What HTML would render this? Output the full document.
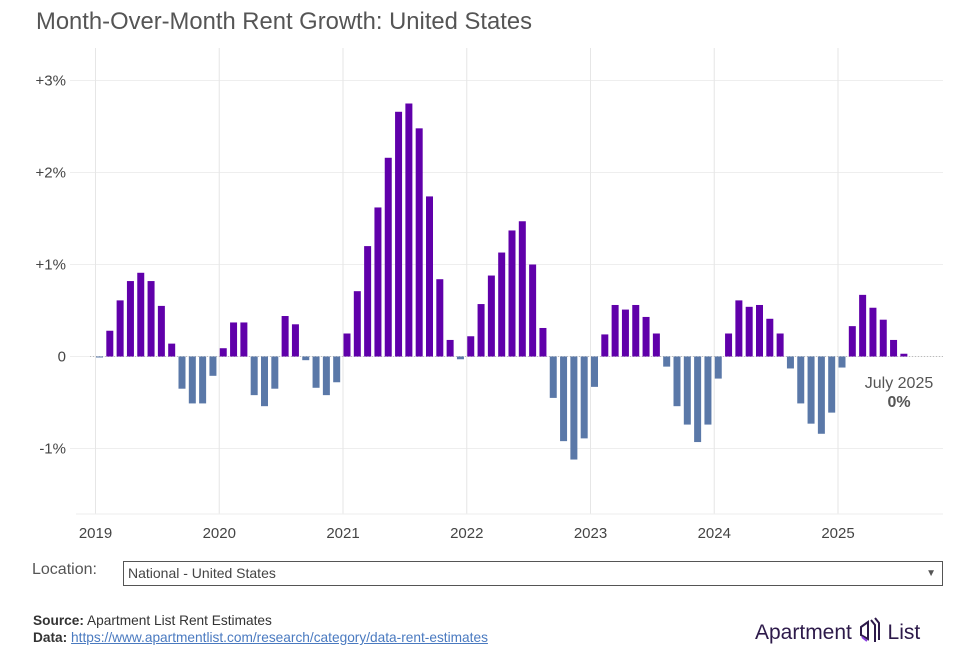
<!DOCTYPE html>
<html><head><meta charset="utf-8"><style>
body{margin:0;background:#fff;font-family:"Liberation Sans",sans-serif;}
#wrap{position:relative;width:967px;height:667px;overflow:hidden;}
.t{position:absolute;white-space:nowrap;}
</style></head><body><div id="wrap">
<div class="t" style="left:36px;top:8px;font-size:23.8px;color:#555;">Month-Over-Month Rent Growth: United States</div>
<svg id="chart" width="967" height="540" style="position:absolute;left:0;top:0;font-family:'Liberation Sans',sans-serif"></svg>
<div class="t" style="left:32px;top:561px;font-size:16px;color:#555;">Location:</div>
<div style="position:absolute;left:123px;top:561px;width:820px;height:25px;border:1px solid #555;box-sizing:border-box;font-size:14px;color:#444;line-height:22px;padding-left:4px;">National - United States<span style="position:absolute;right:6px;top:1px;font-size:10px;color:#555;">▼</span></div>
<div class="t" style="left:33px;top:613px;font-size:13.7px;color:#333;"><b>Source:</b> Apartment List Rent Estimates</div>
<div class="t" style="left:33px;top:630px;font-size:13.7px;color:#333;"><b>Data:</b> <span style="color:#4a7ac0;text-decoration:underline;">https://www.apartmentlist.com/research/category/data-rent-estimates</span></div>
<div class="t" style="left:755px;top:617px;font-size:21px;color:#2d1a4a;">Apartment <svg width="24" height="28" viewBox="0 0 24 28" style="vertical-align:-6px"><path d="M3 10 L10 5 L10 22 L3 18 Z" fill="none" stroke="#2d1a4a" stroke-width="2"/><path d="M4 20 L9 24" stroke="#8a3fe0" stroke-width="2"/><path d="M13 3 L17 8 L17 25 M17 1 L21 6 L21 23" fill="none" stroke="#2d1a4a" stroke-width="2"/></svg> List</div>
</div>
<script>
const years=["2019","2020","2021","2022","2023","2024","2025"];
const yTicks=[3,2,1,0,-1];
const yTickLabels=["+3%","+2%","+1%","0","-1%"];
const values=[
-0.01,0.28,0.61,0.82,0.91,0.82,0.55,0.14,-0.35,-0.51,-0.51,-0.21,
0.09,0.37,0.37,-0.42,-0.54,-0.35,0.44,0.35,-0.04,-0.34,-0.42,-0.28,
0.25,0.71,1.20,1.62,2.16,2.66,2.75,2.48,1.74,0.84,0.18,-0.03,
0.22,0.57,0.88,1.13,1.37,1.47,1.00,0.31,-0.45,-0.92,-1.12,-0.89,
-0.33,0.24,0.56,0.51,0.56,0.43,0.25,-0.11,-0.54,-0.74,-0.93,-0.74,
-0.24,0.25,0.61,0.54,0.56,0.41,0.25,-0.13,-0.51,-0.73,-0.84,-0.61,
-0.12,0.33,0.67,0.53,0.40,0.18,0.03];
const svg=document.getElementById('chart');const NS='http://www.w3.org/2000/svg';
function x(mi){return 95.5+mi*123.75/12;}
function y(v){return 356.5-v*92;}
function el(t,a,p){const e=document.createElementNS(NS,t);for(const k in a)e.setAttribute(k,a[k]);(p||svg).appendChild(e);return e;}
yTicks.forEach((v,i)=>{
 const g=el('line',{x1:70,x2:943,y1:y(v),y2:y(v),stroke:'#eee','stroke-width':1});
 
 
 const t=el('text',{x:66,y:y(v)+5,'text-anchor':'end','font-size':15,fill:'#444'});t.textContent=yTickLabels[i];
 
 
});
years.forEach((yr,i)=>{
 const g=el('line',{x1:x(i*12),x2:x(i*12),y1:48,y2:514,stroke:'#e6e6e6','stroke-width':1});
 
 
 const t=el('text',{x:x(i*12),y:538,'text-anchor':'middle','font-size':15,fill:'#444'});t.textContent=yr;
 
 
});
const ax=el('line',{x1:76,x2:943,y1:514,y2:514,stroke:'#eee'});


const z=el('line',{x1:90,x2:943,y1:y(0),y2:y(0),stroke:'#bbb','stroke-dasharray':'1,2'});


values.forEach((v,i)=>{
 const x0=x(i)+0.5,top=Math.min(y(v),y(0)),h=Math.max(Math.abs(y(v)-y(0)),1);
 const r=el('rect',{x:x0,y:top,width:7,height:h,fill:v>=0?'#6000aa':'#5a78a8'});
 
 
});
const a=el('text',{x:899,y:388,'text-anchor':'middle','font-size':16,fill:'#555'});a.textContent='July 2025';


const b=el('text',{x:899,y:407,'text-anchor':'middle','font-size':16,'font-weight':'bold',fill:'#555'});b.textContent='0%';


</script></body></html>
